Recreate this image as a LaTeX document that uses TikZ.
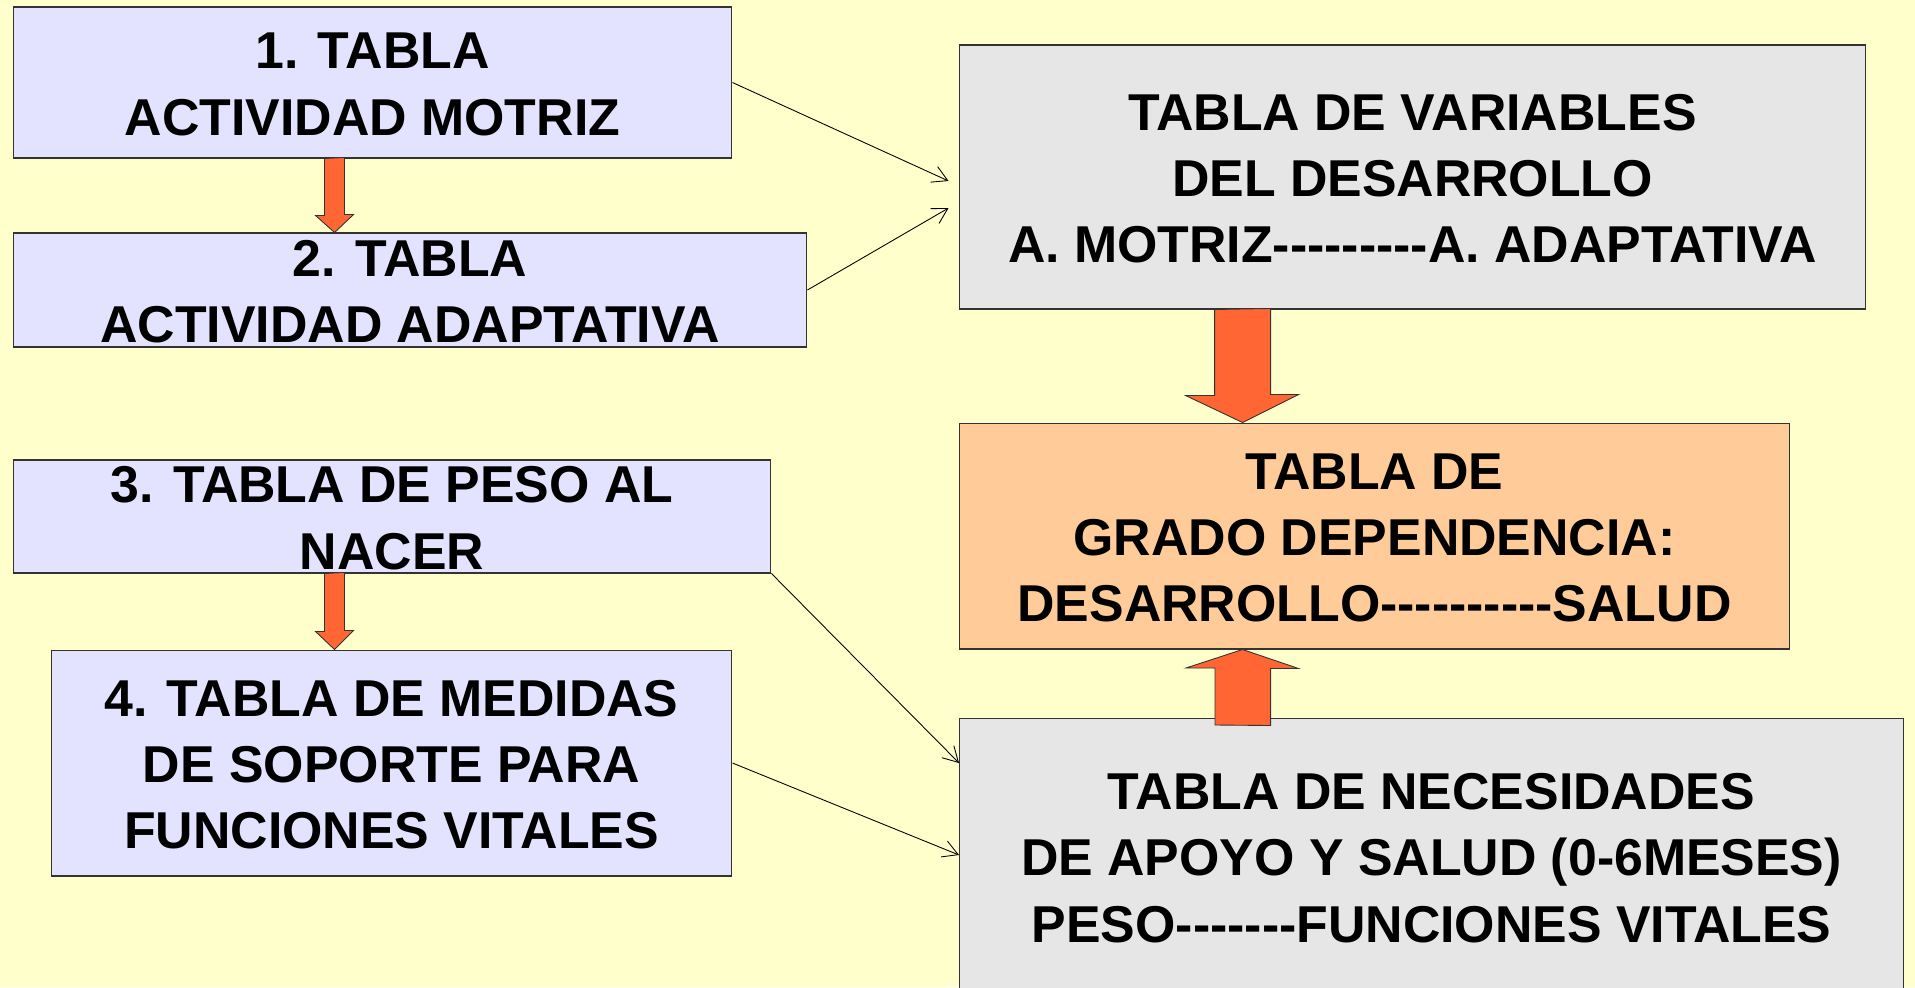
\documentclass[tikz,border=0pt]{standalone}
\usepackage{fontspec}
\setmainfont{Liberation Sans}[Ligatures=TeXOff]
\usetikzlibrary{arrows.meta,calc}
\definecolor{fondo}{HTML}{FFFFCC}
\definecolor{lila}{HTML}{E3E3FF}
\definecolor{gris}{HTML}{E6E6E6}
\definecolor{salmon}{HTML}{FFCC99}
\definecolor{naranja}{HTML}{FF6633}

\begin{document}
\begin{tikzpicture}[x=0.02cm, y=-0.02cm,
  tabla/.style={draw=black!80, line width=0.6pt, inner sep=0pt, text height=19.6pt, text depth=0pt, font=\bfseries\fontsize{29.5}{37.8}\selectfont},
  flecha/.style={draw=black!80, line width=0.5pt, fill=naranja},
  enlace/.style={-{Straight Barb[length=0.3cm, width=0.34cm]}, line width=0.5pt}]
\path[use as bounding box, fill=fondo] (0,0) rectangle (1915,987);
\clip (0,0) rectangle (1915,987);

\node[tabla, fill=lila, minimum width=14.38cm, minimum height=3.02cm] (tabla motriz) at (372.5,82.5) {\begin{tabular}{c}
1. TABLA \\
ACTIVIDAD MOTRIZ
\end{tabular}};

\node[tabla, fill=lila, minimum width=15.88cm, minimum height=2.28cm] (tabla adaptativa) at (410,290) {\begin{tabular}{c}
2. TABLA \\
ACTIVIDAD ADAPTATIVA
\end{tabular}};

\node[tabla, fill=lila, minimum width=15.16cm, minimum height=2.26cm] (tabla peso) at (392,516.5) {\begin{tabular}{c}
3. TABLA DE PESO AL \\
NACER
\end{tabular}};

\node[tabla, fill=lila, minimum width=13.62cm, minimum height=4.52cm] (tabla medidas) at (391.5,763) {\begin{tabular}{c}
4. TABLA DE MEDIDAS \\
DE SOPORTE PARA \\
FUNCIONES VITALES
\end{tabular}};

\node[tabla, fill=gris, minimum width=18.14cm, minimum height=5.28cm] (tabla variables) at (1412.5,177) {\begin{tabular}{c}
TABLA DE VARIABLES \\
DEL DESARROLLO \\
A. MOTRIZ---------A. ADAPTATIVA
\end{tabular}};

\node[tabla, fill=salmon, minimum width=16.62cm, minimum height=4.52cm] (grado dependencia) at (1374.5,536) {\begin{tabular}{c}
TABLA DE \\
GRADO DEPENDENCIA: \\
DESARROLLO----------SALUD
\end{tabular}};

\node[tabla, fill=gris, anchor=north west, minimum width=18.88cm, minimum height=5.5cm] (tabla necesidades) at (959,718) {\begin{tabular}{c}
TABLA DE NECESIDADES \\
DE APOYO Y SALUD (0-6MESES) \\
PESO-------FUNCIONES VITALES
\end{tabular}};

% flechas gruesas
\draw[flecha] ($(tabla motriz.south west)+(312,0)$) -- ++(0,57) -- ++(-9,0) -- ($(tabla adaptativa.north west)+(322,0)$) -- ++(19,-18) -- ++(-9,0) -- ++(0,-57) -- cycle;
\draw[flecha] ($(tabla peso.south west)+(312,0)$) -- ++(0,58) -- ++(-9,0) -- ($(tabla medidas.north west)+(284,0)$) -- ++(19,-19) -- ++(-9,0) -- ++(0,-58) -- cycle;
\draw[flecha] ($(tabla variables.south west)+(256,0)$) -- ++(0,86) -- ++(-29,0) -- ($(grado dependencia.north west)+(284,0)$) -- ++(56,-28) -- ++(-28,0) -- ++(0,-86) -- cycle;
\draw[flecha] ($(tabla necesidades.north west)+(256,7)$) -- ++(0,-57) -- ++(-29,0) -- ($(grado dependencia.south west)+(284,0)$) -- ++(56,19) -- ++(-28,0) -- ++(0,57) -- cycle;

% flechas finas
\draw[enlace] (tabla motriz.east) -- ($(tabla variables.west)+(-10,4)$);
\draw[enlace] (tabla adaptativa.east) -- ($(tabla variables.west)+(-10,31)$);
\draw[enlace] (tabla peso.south east) -- ($(tabla necesidades.north west)+(0,45)$);
\draw[enlace] (tabla medidas.east) -- ($(tabla necesidades.north west)+(0,137)$);
\end{tikzpicture}
\end{document}
